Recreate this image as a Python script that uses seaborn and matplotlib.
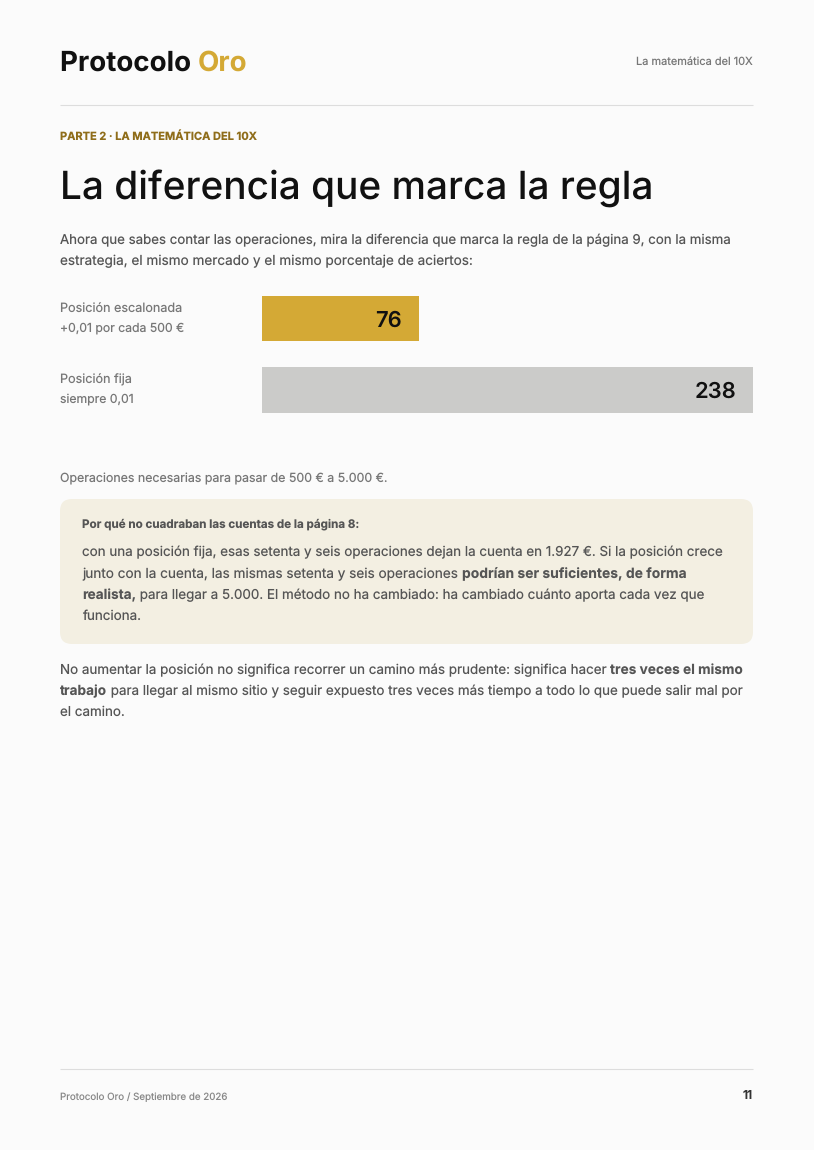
import matplotlib
matplotlib.use('Agg')
import matplotlib.pyplot as plt
from matplotlib.patches import FancyBboxPatch
import pandas as pd
import seaborn as sns

# Datos
categorias = ['Posición escalonada', 'Posición fija']
subtitulos = ['+0,01 por cada 500 €', 'siempre 0,01']
operaciones = [76, 238]
colores = ['#d4a935', '#cbcbc9']

FONDO = '#fbfbfb'
TINTA = '#111111'
GRIS = '#555555'
GRIS2 = '#777777'

sns.set_theme(style='white')
plt.rcParams['font.family'] = ['Inter', 'DejaVu Sans']
plt.rcParams['text.hinting'] = 'no_hinting'
plt.rcParams['text.hinting_factor'] = 1

fig = plt.figure(figsize=(8.14, 11.5), dpi=100, facecolor=FONDO)

# Capa de la pagina en pixeles
pag = fig.add_axes([0, 0, 1, 1])
pag.set_xlim(0, 814)
pag.set_ylim(1150, 0)
pag.axis('off')


def px(s):
    return s * 72 / 100


def linea(x, y, trozos, size, color=GRIS, ha='left'):
    # trozos: lista de (texto, peso) o (texto, peso, color)
    r = fig.canvas.get_renderer()
    for t in trozos:
        c = t[2] if len(t) > 2 else color
        # la negrita dentro de un parrafo va un poco mas ancha
        s = size * 1.02 if len(trozos) > 1 and t[1] == 700 else size
        txt = pag.text(x, y, t[0], fontsize=px(s), fontweight=t[1], color=c, ha=ha, va='baseline')
        x = pag.transData.inverted().transform(txt.get_window_extent(r).corners()[2])[0]


# Cabecera
linea(60, 71, [('Protocolo ', 650, TINTA), ('Oro', 650, '#d4a935')], 27.7)
linea(753, 65, [('La matemática del 10X', 400)], 11.0, GRIS2, ha='right')
pag.plot([60, 752.6], [105, 105], color='#dddddd', lw=0.8, solid_capstyle='butt')

linea(60, 140, [('PARTE 2 · LA MATEMÁTICA DEL 10X', 700)], 11.05, '#8f6d1a')
linea(60, 198.5, [('La diferencia que marca la regla', 500)], 38.8, TINTA)

linea(60, 244, [('Ahora que sabes contar las operaciones, mira la diferencia que marca la regla de la página 9, con la misma', 400)], 13.3)
linea(60, 265, [('estrategia, el mismo mercado y el mismo porcentaje de aciertos:', 400)], 13.55)

# Barras
ax = fig.add_axes([262 / 814, 1 - 425.75 / 1150, 491 / 814, 143 / 1150])
df = pd.DataFrame({'categoria': categorias, 'operaciones': operaciones})
sns.barplot(data=df, x='operaciones', y='categoria', hue='categoria', palette=colores,
            width=0.636, legend=False, saturation=1, linewidth=0, edgecolor='none', ax=ax)
ax.set_xlim(0, 238)
ax.set_ylim(1.5, -0.5)
ax.axis('off')
for i, v in enumerate(operaciones):
    ax.annotate(str(v), xy=(v, i), xytext=(-17, -8), textcoords='offset pixels', ha='right',
                va='baseline', fontsize=px(22), fontweight=600, color=TINTA)

for i, (a, b) in enumerate(zip(categorias, subtitulos)):
    linea(60, 312.4 + 71 * i, [(a, 400)], 12.6, GRIS2)
    linea(60, 332 + 71 * i, [(b, 400)], 12.2, GRIS2)

linea(60, 482, [('Operaciones necesarias para pasar de 500 € a 5.000 €.', 400)], 12.37, GRIS2)

# Recuadro
pag.add_patch(FancyBboxPatch((72, 511), 669, 121, boxstyle='round,pad=12,rounding_size=12',
                             fc='#f3efe2', ec='none'))
linea(82, 527, [('Por qué no cuadraban las cuentas de la página 8:', 700)], 11.65)
linea(82, 556, [('con una posición fija, esas setenta y seis operaciones dejan la cuenta en 1.927 €. Si la posición crece', 400)], 13.4)
linea(82, 578, [('junto con la cuenta, las mismas setenta y seis operaciones ', 400), ('podrían ser suficientes, de forma', 700)], 13.6)
linea(82, 599, [('realista,', 700), (' para llegar a 5.000. El método no ha cambiado: ha cambiado cuánto aporta cada vez que', 400)], 13.4)
linea(82, 620, [('funciona.', 400)], 13.4)

linea(60, 674, [('No aumentar la posición no significa recorrer un camino más prudente: significa hacer ', 400), ('tres veces el mismo', 700)], 13.42)
linea(60, 695, [('trabajo', 700), (' para llegar al mismo sitio y seguir expuesto tres veces más tiempo a todo lo que puede salir mal por', 400)], 13.4)
linea(60, 716, [('el camino.', 400)], 13.4)

# Pie
pag.plot([60, 752.6], [1069, 1069], color='#dddddd', lw=0.8, solid_capstyle='butt')
linea(60, 1100, [('Protocolo Oro / Septiembre de 2026', 400)], 9.75, '#888888')
linea(753, 1099, [('11', 600)], 12, '#333333', ha='right')

fig.savefig('out.png', dpi=100, facecolor=FONDO)
